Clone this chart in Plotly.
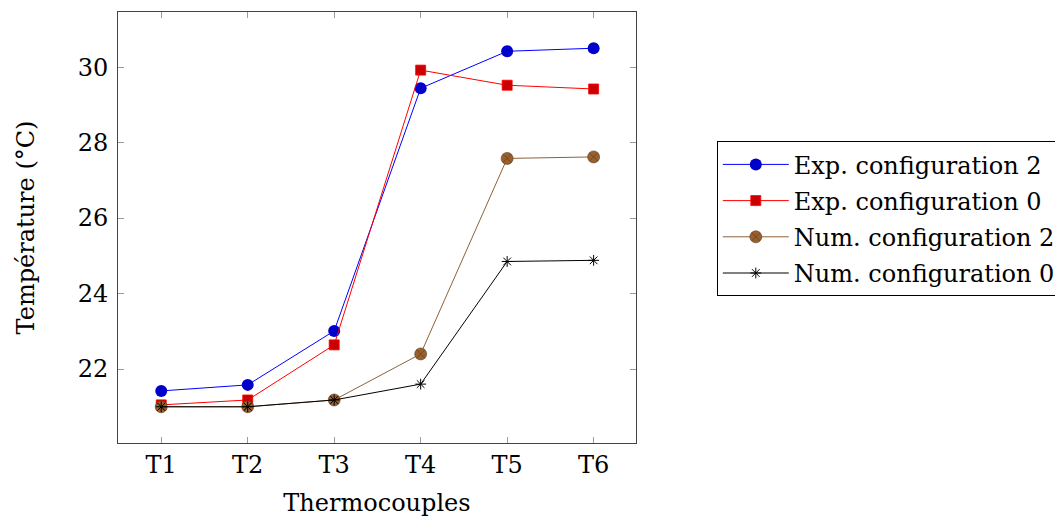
import plotly.graph_objects as go

categories = ["T1", "T2", "T3", "T4", "T5", "T6"]
exp_conf2 = [21.42, 21.58, 23.01, 29.44, 30.42, 30.50]
exp_conf0 = [21.05, 21.18, 22.64, 29.92, 29.52, 29.42]
num_conf2 = [21.00, 21.00, 21.18, 22.40, 27.58, 27.62]
num_conf0 = [21.00, 21.00, 21.18, 21.60, 24.85, 24.88]
y_ticks = [22, 24, 26, 28, 30]

FONT = "DejaVu Serif"
FS = 24
xs = list(range(len(categories)))

fig = go.Figure()
fig.add_trace(go.Scatter(x=xs, y=exp_conf2, name="Exp. configuration 2", mode="lines+markers",
                         legendgroup="a",
                         line=dict(color="#0000FF", width=1),
                         marker=dict(symbol="circle", size=12, color="#0000CC", line=dict(width=0))))
fig.add_trace(go.Scatter(x=xs, y=exp_conf0, name="Exp. configuration 0", mode="lines+markers",
                         legendgroup="b",
                         line=dict(color="#FF0000", width=1),
                         marker=dict(symbol="square", size=10, color="#CC0000", line=dict(width=0.8, color="#FF0000"))))
fig.add_trace(go.Scatter(x=xs, y=num_conf2, name="Num. configuration 2", mode="lines+markers",
                         legendgroup="c",
                         line=dict(color="#8C6239", width=1),
                         marker=dict(symbol="circle-x", size=12, color="#99602F", line=dict(width=0.6, color="#5a3a1c"))))
fig.add_trace(go.Scatter(x=xs, y=num_conf0, name="Num. configuration 0", mode="lines+markers",
                         legendgroup="d",
                         line=dict(color="#000000", width=1),
                         marker=dict(symbol="asterisk-open", size=9, color="#000000", line=dict(width=1, color="#000000"))))

axis_common = dict(showline=True, linecolor="#444444", linewidth=1, mirror="allticks",
                   ticks="inside", ticklen=6, tickcolor="#9a9a9a", tickwidth=1,
                   showgrid=False, zeroline=False,
                   tickfont=dict(family=FONT, size=FS, color="#000000"))

fig.update_layout(
    width=1055, height=509,
    margin=dict(l=110, r=427, t=4, b=74, autoexpand=False),
    paper_bgcolor="white", plot_bgcolor="white",
    font=dict(family=FONT, size=FS, color="#000000"),
    xaxis=dict(axis_common, tickmode="array", tickvals=xs, ticktext=categories,
               range=[-0.5, 5.49],
               title=dict(text="Thermocouples", font=dict(family=FONT, size=FS), standoff=17)),
    yaxis=dict(axis_common, tickmode="array", tickvals=y_ticks, ticktext=[str(v) for v in y_ticks],
               range=[20.04, 31.46], ticklabelstandoff=4,
               title=dict(text="Température (°C)", font=dict(family=FONT, size=FS), standoff=36)),
    legend=dict(x=1.156, y=0.70, xanchor="left", yanchor="top",
                bordercolor="#000000", borderwidth=1, bgcolor="white",
                font=dict(family=FONT, size=FS), itemwidth=66,
                traceorder="grouped", tracegroupgap=2),
    showlegend=True,
)

fig.write_html("out.html")
